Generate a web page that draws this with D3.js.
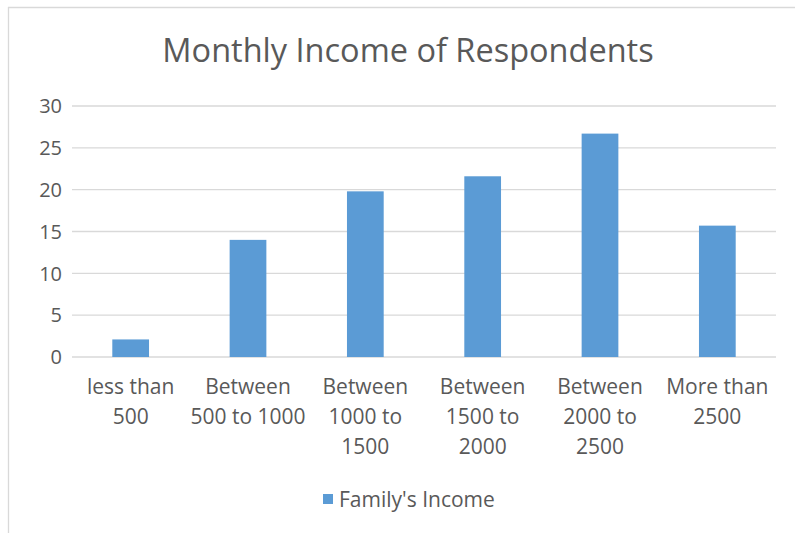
<!DOCTYPE html>
<html lang="en">
<head>
    <meta charset="utf-8">
    <title>Monthly Income of Respondents</title>
    <script src="https://d3js.org/d3.v7.min.js"></script>
    <style>
        body {
            margin: 0;
            background: #ffffff;
            font-family: "Open Sans", sans-serif;
        }
        .tick-label {
            font-size: 21px;
            fill: #595959;
        }
        .y-label {
            font-size: 20px;
        }
        .grid line {
            stroke: #d9d9d9;
            stroke-width: 1.3px;
        }
    </style>
</head>
<body>
    <svg id="chart" width="795" height="533"></svg>
    <script>
        const categories = [
            ["less than", "500"],
            ["Between", "500 to 1000"],
            ["Between", "1000 to", "1500"],
            ["Between", "1500 to", "2000"],
            ["Between", "2000 to", "2500"],
            ["More than", "2500"]
        ];
        const values = [2.1, 14, 19.8, 21.6, 26.7, 15.7];
        const yTicks = [0, 5, 10, 15, 20, 25, 30];
        const seriesName = "Family's Income";

        const svg = d3.select('#chart');
        const plotLeft = 72, plotRight = 776, plotTop = 106, plotBottom = 357;
        const color = '#5b9bd5';

        // chart frame (only top and left edges show in the picture)
        svg.append('line').attr('x1', 8).attr('x2', 795).attr('y1', 7.5).attr('y2', 7.5)
            .attr('stroke', '#d9d9d9').attr('stroke-width', 1.3);
        svg.append('line').attr('x1', 8.5).attr('x2', 8.5).attr('y1', 7).attr('y2', 533)
            .attr('stroke', '#d9d9d9').attr('stroke-width', 1.3);

        svg.append('text')
            .attr('x', 408)
            .attr('y', 62)
            .attr('text-anchor', 'middle')
            .attr('font-size', '32.5px')
            .attr('fill', '#595959')
            .text('Monthly Income of Respondents');

        const x = d3.scaleBand()
            .domain(d3.range(categories.length))
            .range([plotLeft, plotRight])
            .paddingInner(0.687)
            .paddingOuter(0.687 / 2);

        const y = d3.scaleLinear()
            .domain([0, 30])
            .range([plotBottom, plotTop]);

        // gridlines
        svg.append('g').attr('class', 'grid')
            .selectAll('line')
            .data(yTicks)
            .enter().append('line')
            .attr('x1', plotLeft)
            .attr('x2', plotRight)
            .attr('y1', d => y(d))
            .attr('y2', d => y(d));

        // y labels
        svg.selectAll('.y-label')
            .data(yTicks)
            .enter().append('text')
            .attr('class', 'tick-label y-label')
            .attr('x', 62)
            .attr('y', d => y(d))
            .attr('dy', '0.36em')
            .attr('text-anchor', 'end')
            .text(d => d);

        // bars
        svg.selectAll('.bar')
            .data(values)
            .enter().append('rect')
            .attr('x', (d, i) => x(i))
            .attr('width', x.bandwidth())
            .attr('y', d => y(d))
            .attr('height', d => y(0) - y(d))
            .attr('fill', color);

        // x labels
        svg.selectAll('.x-label')
            .data(categories)
            .enter().append('text')
            .attr('class', 'tick-label')
            .attr('text-anchor', 'middle')
            .attr('x', (d, i) => x(i) + x.bandwidth() / 2)
            .attr('y', 394)
            .each(function(lines) {
                const t = d3.select(this);
                lines.forEach((ln, k) => {
                    t.append('tspan')
                        .attr('x', t.attr('x'))
                        .attr('dy', k === 0 ? 0 : 30)
                        .text(ln);
                });
            });

        // legend
        svg.append('rect')
            .attr('x', 323).attr('y', 494)
            .attr('width', 10).attr('height', 10)
            .attr('fill', color);
        svg.append('text')
            .attr('class', 'tick-label')
            .attr('x', 339)
            .attr('y', 507)
            .text(seriesName);
    </script>
</body>
</html>
